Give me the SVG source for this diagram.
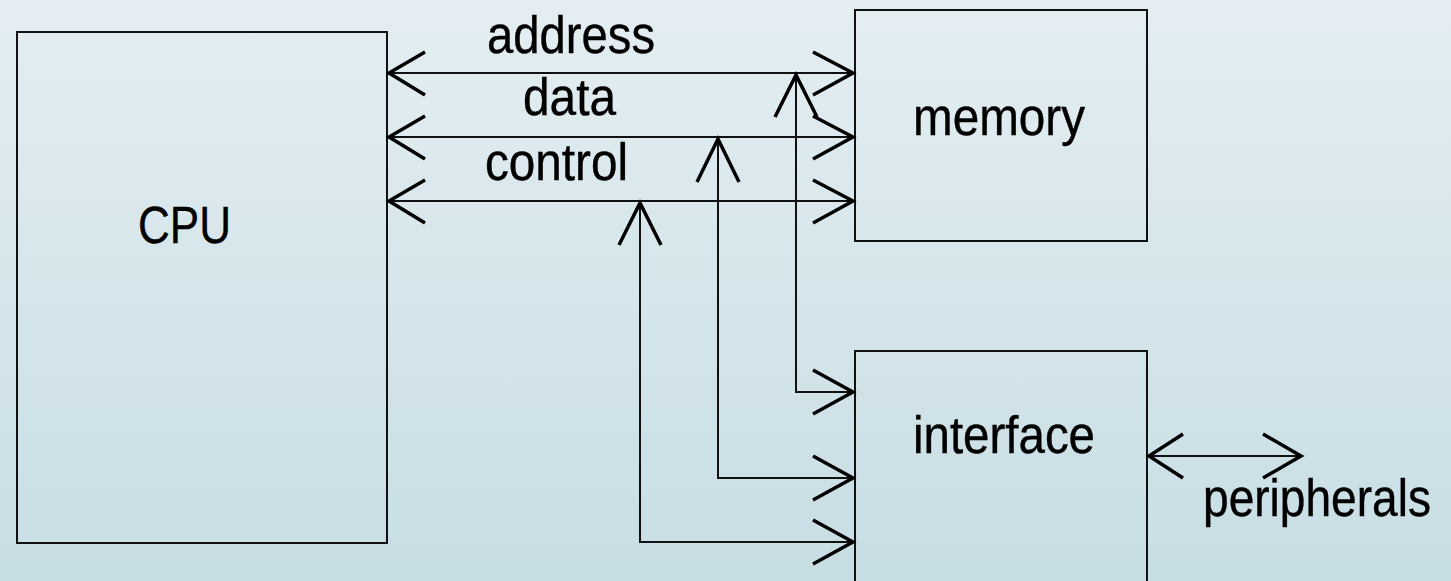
<svg xmlns="http://www.w3.org/2000/svg" width="1451" height="581" viewBox="0 0 1451 581">
  <defs>
    <linearGradient id="bg" x1="0" y1="0" x2="0" y2="1">
      <stop offset="0" stop-color="#e4eef2"/>
      <stop offset="1" stop-color="#c7dde4"/>
    </linearGradient>
  </defs>
  <style>
    .box { fill: none; stroke: #111; stroke-width: 2; }
    .bus { fill: none; stroke: #111; stroke-width: 2; }
    .head { fill: none; stroke: #000; stroke-width: 3.5; stroke-linecap: butt; stroke-linejoin: miter; }
    .label { font-family: "Liberation Sans", Arial, sans-serif; font-size: 51px; fill: #000; stroke: #000; stroke-width: 0.4; }
  </style>

  <rect width="1451" height="581" fill="url(#bg)"/>

  <g id="cpu">
    <rect class="box" x="17" y="32" width="370" height="511"/>
    <text class="label" x="138" y="243" textLength="93" lengthAdjust="spacingAndGlyphs">CPU</text>
  </g>

  <g id="memory">
    <rect class="box" x="855" y="10" width="292" height="231"/>
    <text class="label" x="913" y="135" textLength="172" lengthAdjust="spacingAndGlyphs">memory</text>
  </g>

  <g id="interface">
    <path class="box" d="M855,600 V351 H1147 V600"/>
    <text class="label" x="913" y="453" textLength="182" lengthAdjust="spacingAndGlyphs">interface</text>
  </g>

  <g id="connectors">
    <!-- system bus: CPU to memory -->
    <line class="bus" x1="387" y1="73" x2="855" y2="73"/>
    <line class="bus" x1="387" y1="137" x2="855" y2="137"/>
    <line class="bus" x1="387" y1="201" x2="855" y2="201"/>

    <!-- bus taps down to interface -->
    <path class="bus" d="M796,73 V392 H855"/>
    <path class="bus" d="M718,137 V478 H855"/>
    <path class="bus" d="M640,201 V542 H855"/>

    <!-- interface to peripherals -->
    <line class="bus" x1="1147" y1="456" x2="1303" y2="456"/>

    <!-- arrowheads at CPU -->
    <path class="head" d="M425,52 L389,73 L425,95"/>
    <path class="head" d="M425,116 L389,137 L425,159"/>
    <path class="head" d="M425,180 L389,201 L425,223"/>

    <!-- arrowheads at memory -->
    <path class="head" d="M813,52 L853,73 L813,95"/>
    <path class="head" d="M813,116 L853,137 L813,159"/>
    <path class="head" d="M813,180 L853,201 L813,223"/>

    <!-- arrowheads pointing up at bus taps -->
    <path class="head" d="M775,117 L796,75 L817,117"/>
    <path class="head" d="M697,182 L718,139 L739,182"/>
    <path class="head" d="M619,245 L640,203 L661,245"/>

    <!-- arrowheads at interface -->
    <path class="head" d="M813,370 L853,392 L813,414"/>
    <path class="head" d="M813,456 L853,478 L813,500"/>
    <path class="head" d="M813,520 L853,542 L813,564"/>

    <!-- peripherals arrowheads -->
    <path class="head" d="M1183,434 L1149,456 L1183,478"/>
    <path class="head" d="M1263,434 L1301,456 L1263,478"/>
  </g>

  <g id="bus-labels">
    <text class="label" x="487" y="53" textLength="168" lengthAdjust="spacingAndGlyphs">address</text>
    <text class="label" x="523" y="115" textLength="93" lengthAdjust="spacingAndGlyphs">data</text>
    <text class="label" x="485" y="180" textLength="143" lengthAdjust="spacingAndGlyphs">control</text>
    <text class="label" x="1203" y="516" font-size="49" textLength="228" lengthAdjust="spacingAndGlyphs">peripherals</text>
  </g>
</svg>
